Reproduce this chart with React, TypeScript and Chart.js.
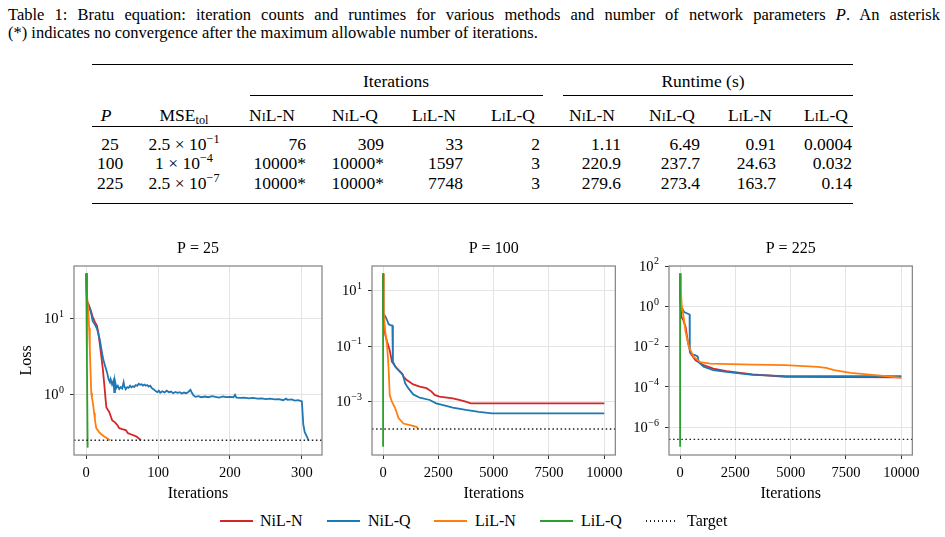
import React, { useEffect, useRef } from "react";
import { Chart, registerables } from "chart.js";

Chart.register(...registerables);

const SERIF = "'Liberation Serif', 'Times New Roman', Times, serif";

// ---------- table values ----------
const paramCounts = ["25", "100", "225"];
const mseTolMantissa = ["2.5", "1", "2.5"];
const mseTolExponent = ["\u22121", "\u22124", "\u22127"];
const iterationCounts = [
  ["76", "309", "33", "2"],
  ["10000*", "10000*", "1597", "3"],
  ["10000*", "10000*", "7748", "3"],
];
const runtimeSeconds = [
  ["1.11", "6.49", "0.91", "0.0004"],
  ["220.9", "237.7", "24.63", "0.032"],
  ["279.6", "273.4", "163.7", "0.14"],
];

// ---------- methods ----------
const methods = ["NiL-N", "NiL-Q", "LiL-N", "LiL-Q"];
const methodColors = ["#d62728", "#1f77b4", "#ff7f0e", "#2ca02c"];
const targetLoss = [0.25, 1e-4, 2.5e-7];

// ---------- loss histories: [iteration, loss] ----------
const lossNiLN25 = [
  [0, 39], [1, 17], [3, 15.5], [6, 13], [9, 10.5], [12, 9], [15, 8], [17, 6.3], [19, 4.5],
  [21, 3.2], [23, 2.2], [25, 1.4], [27, 0.85], [28, 0.68], [30, 0.63], [32, 0.59], [34, 0.52],
  [36, 0.46], [40, 0.43], [43, 0.4], [46, 0.36], [50, 0.35], [55, 0.34], [58, 0.31], [62, 0.3],
  [66, 0.29], [70, 0.28], [74, 0.26], [76, 0.25],
];
const lossNiLQ25 = [
  [0, 39], [1, 16.5], [3, 15], [5, 13.5], [7, 11.5], [9, 9.2], [11, 8.6], [13, 8.0], [15, 7.3],
  [17, 6.2], [19, 5.2], [21, 4.0], [23, 3.1], [25, 2.6], [27, 2.25], [29, 1.95], [31, 1.6],
  [33, 1.45], [34, 1.58], [36, 1.35], [38, 1.52], [39, 1.07], [40, 1.5], [42, 1.22], [44, 1.3],
  [46, 1.18], [48, 1.25], [50, 1.2], [52, 1.45], [53, 1.28], [55, 1.17], [57, 1.25], [59, 1.22],
  [61, 1.3], [63, 1.24], [65, 1.28], [67, 1.26], [69, 1.33], [71, 1.3], [73, 1.38], [75, 1.34],
  [77, 1.36], [79, 1.31], [81, 1.35], [83, 1.3], [85, 1.33], [87, 1.27], [89, 1.3], [91, 1.22],
  [93, 1.18], [95, 1.14], [97, 1.1], [99, 1.07], [101, 1.12], [103, 1.05], [106, 1.1],
  [109, 1.06], [112, 1.12], [115, 1.07], [118, 1.09], [121, 1.04], [124, 1.08], [127, 1.05],
  [130, 1.07], [133, 1.03], [136, 1.06], [139, 1.04], [142, 1.08], [145, 1.15], [147, 1.05],
  [149, 0.98], [152, 0.93], [156, 0.95], [160, 0.92], [165, 0.94], [170, 0.92], [175, 0.95],
  [180, 0.93], [185, 0.91], [190, 0.94], [195, 0.92], [200, 0.93], [205, 0.92], [207, 0.99],
  [209, 0.91], [214, 0.9], [220, 0.91], [226, 0.89], [232, 0.9], [238, 0.88], [244, 0.89],
  [250, 0.87], [256, 0.88], [262, 0.86], [268, 0.87], [274, 0.84], [278, 0.88], [280, 0.85],
  [286, 0.86], [290, 0.83], [295, 0.84], [300, 0.81], [302, 0.4], [304, 0.32], [307, 0.28],
  [309, 0.25],
];
const lossLiLN25 = [
  [0, 39], [1, 20], [2, 16], [3, 12], [4, 7.5], [5, 4], [6, 2], [7, 1.05], [8, 0.9], [9, 0.8],
  [10, 0.68], [11, 0.57], [12, 0.48], [13, 0.41], [14, 0.36], [16, 0.34], [18, 0.32], [21, 0.3],
  [25, 0.28], [29, 0.265], [33, 0.25],
];
const lossLiLQ25 = [[0, 39], [1, 2.5], [2, 0.2]];

const lossNiLN100 = [
  [0, 42], [10, 1.0], [60, 0.45], [100, 0.25], [180, 0.145], [300, 0.071], [400, 0.027],
  [620, 0.0158], [850, 0.0102], [920, 0.0079], [1070, 0.0059], [1365, 0.0041], [1660, 0.0034],
  [1960, 0.003], [2180, 0.0023], [2330, 0.0017], [2550, 0.00148], [3150, 0.00129],
  [3440, 0.00112], [3740, 0.00098], [3960, 0.00085], [10000, 0.00085],
];
const lossNiLQ100 = [
  [0, 42], [10, 3], [30, 1.3], [60, 1.32], [120, 1.1], [180, 0.87], [250, 0.62], [325, 0.57],
  [420, 0.55], [445, 0.027], [550, 0.0178], [770, 0.0117], [890, 0.0093], [1000, 0.0045],
  [1140, 0.003], [1365, 0.00178], [1660, 0.00135], [2110, 0.00112], [2400, 0.00085],
  [2850, 0.00068], [3150, 0.00059], [3740, 0.00049], [4330, 0.00042], [4930, 0.00037],
  [10000, 0.00037],
];
const lossLiLN100 = [
  [0, 42], [30, 1.5], [100, 0.33], [180, 0.11], [250, 0.016], [300, 0.0017], [400, 0.00098],
  [550, 0.00056], [700, 0.00025], [920, 0.000158], [1220, 0.000138], [1510, 0.00012],
  [1597, 0.0001],
];
const lossLiLQ100 = [[0, 42], [1, 0.3], [2, 0.002], [3, 2.3e-5]];

const lossNiLN225 = [
  [0, 42], [15, 1.5], [60, 0.3], [150, 0.2], [250, 0.095], [355, 0.017], [475, 0.0046],
  [700, 0.0021], [1065, 0.0012], [1500, 0.00081], [2100, 0.0006], [3280, 0.00042],
  [4760, 0.00032], [10000, 0.000295],
];
const lossNiLQ225 = [
  [0, 42], [15, 2], [60, 0.93], [180, 0.52], [330, 0.44], [430, 0.39], [440, 0.0055],
  [550, 0.0041], [700, 0.0037], [800, 0.0032], [840, 0.0017], [1065, 0.001], [1500, 0.00068],
  [2100, 0.00056], [3280, 0.0004], [4760, 0.00034], [10000, 0.00034],
];
const lossLiLN225 = [
  [0, 42], [30, 10], [75, 1.1], [150, 0.36], [250, 0.054], [400, 0.0098], [620, 0.0031],
  [917, 0.0017], [1360, 0.00145], [1800, 0.0014], [3280, 0.00129], [4760, 0.0012],
  [6230, 0.001], [6600, 0.00089], [6970, 0.00068], [7710, 0.0005], [8450, 0.00042],
  [9190, 0.00035], [10000, 0.00028],
];
const lossLiLQ225 = [[0, 42], [1, 0.5], [2, 1e-4], [3, 1.07e-7]];

// ---------- axis ticks ----------
const iterTicksSmall = [0, 100, 200, 300];
const iterTicksLarge = [0, 2500, 5000, 7500, 10000];
const lossTicks25 = [1, 10];
const lossTicks100 = [1e-3, 1e-1, 10];
const lossTicks225 = [1e-6, 1e-4, 1e-2, 1, 100];

type Pt = number[];
interface PanelSpec {
  title: string;
  series: Pt[][];
  target: number;
  xMin: number;
  xMax: number;
  xTicks: number[];
  yMin: number;
  yMax: number;
  yTicks: number[];
  showLossTitle: boolean;
  left: number;
  top: number;
  width: number;
  height: number;
  yAxisWidth: number;
  padRight: number;
}

const panels: PanelSpec[] = [
  {
    title: "P = 25", series: [lossNiLN25, lossNiLQ25, lossLiLN25, lossLiLQ25], target: targetLoss[0],
    xMin: -17, xMax: 328, xTicks: iterTicksSmall, yMin: 0.16, yMax: 48.8, yTicks: lossTicks25,
    showLossTitle: true, left: 10, top: 236, width: 318, height: 269, yAxisWidth: 64, padRight: 6,
  },
  {
    title: "P = 100", series: [lossNiLN100, lossNiLQ100, lossLiLN100, lossLiLQ100], target: targetLoss[1],
    xMin: -500, xMax: 10500, xTicks: iterTicksLarge, yMin: 1.15e-5, yMax: 78, yTicks: lossTicks100,
    showLossTitle: false, left: 329, top: 236, width: 299, height: 269, yAxisWidth: 43, padRight: 9,
  },
  {
    title: "P = 225", series: [lossNiLN225, lossNiLQ225, lossLiLN225, lossLiLQ225], target: targetLoss[2],
    xMin: -500, xMax: 10500, xTicks: iterTicksLarge, yMin: 4.2e-8, yMax: 100, yTicks: lossTicks225,
    showLossTitle: false, left: 627, top: 236, width: 298, height: 269, yAxisWidth: 42, padRight: 9,
  },
];

// Box around the plotting area, on every side.
const framePlugin = {
  id: "frame",
  afterDraw(chart: any) {
    const { ctx, chartArea: a } = chart;
    ctx.save();
    ctx.strokeStyle = "#8a8a8a";
    ctx.lineWidth = 1.3;
    ctx.strokeRect(a.left, a.top, a.right - a.left, a.bottom - a.top);
    ctx.restore();
  },
};

// Log-axis labels written as 10 with a raised exponent.
const powerLabelPlugin = {
  id: "powerLabels",
  afterDraw(chart: any) {
    const { ctx, chartArea } = chart;
    const scale = chart.scales.y;
    const rightEdge = chartArea.left - 10;
    ctx.save();
    ctx.fillStyle = "#000";
    ctx.textBaseline = "alphabetic";
    for (const t of scale.ticks) {
      const y = scale.getPixelForValue(t.value);
      const e = Math.round(Math.log10(t.value));
      const expText = e < 0 ? "\u2212" + String(-e) : String(e);
      ctx.font = `10px ${SERIF}`;
      const ew = ctx.measureText(expText).width;
      ctx.textAlign = "left";
      ctx.fillText(expText, rightEdge - ew, y - 1.6);
      ctx.font = `14.5px ${SERIF}`;
      ctx.textAlign = "right";
      ctx.fillText("10", rightEdge - ew - 0.5, y + 4.8);
    }
    ctx.restore();
  },
};

function LossPanel({ spec }: { spec: PanelSpec }) {
  const ref = useRef<HTMLCanvasElement | null>(null);
  useEffect(() => {
    const gridStyle = { color: "#e4e4e4", lineWidth: 1, tickColor: "#333", tickLength: 4, tickWidth: 1 };
    const datasets: any[] = spec.series.map((pts, i) => ({
      label: methods[i],
      data: pts.map(([x, y]) => ({ x, y })),
      borderColor: methodColors[i],
      backgroundColor: methodColors[i],
      borderWidth: 1.8,
      pointRadius: 0,
      tension: 0,
      fill: false,
      order: 5 - i,
    }));
    datasets.push({
      label: "Target",
      data: [{ x: spec.xMin, y: spec.target }, { x: spec.xMax, y: spec.target }],
      borderColor: "#222",
      borderWidth: 1.4,
      borderDash: [1.5, 2.6],
      pointRadius: 0,
      fill: false,
      order: 0,
    });
    const chart = new Chart(ref.current as HTMLCanvasElement, {
      type: "line",
      data: { datasets },
      options: {
        responsive: false,
        animation: false,
        devicePixelRatio: 1,
        layout: { padding: { left: 0, top: 0, bottom: 0, right: spec.padRight } },
        plugins: {
          legend: { display: false },
          tooltip: { enabled: false },
          title: {
            display: true,
            text: spec.title,
            fullSize: false,
            color: "#000",
            font: { family: SERIF, size: 16, weight: "normal", lineHeight: 1.2 },
            padding: { top: 3, bottom: 7.8 },
          },
        },
        scales: {
          x: {
            type: "linear",
            min: spec.xMin,
            max: spec.xMax,
            afterBuildTicks: (s: any) => {
              s.ticks = spec.xTicks.map((v) => ({ value: v }));
            },
            afterFit: (s: any) => {
              s.height = 50;
            },
            ticks: {
              callback: (v: any) => String(v),
              color: "#000",
              font: { family: SERIF, size: 14.5 },
              padding: 5,
              maxRotation: 0,
              autoSkip: false,
            },
            grid: gridStyle,
            border: { display: false },
            title: {
              display: true,
              text: "Iterations",
              color: "#000",
              font: { family: SERIF, size: 16, lineHeight: 1.2 },
              padding: { top: 0, bottom: 2 },
            },
          },
          y: {
            type: "logarithmic",
            min: spec.yMin,
            max: spec.yMax,
            afterBuildTicks: (s: any) => {
              s.ticks = spec.yTicks.map((v) => ({ value: v }));
            },
            afterFit: (s: any) => {
              s.width = spec.yAxisWidth;
            },
            ticks: { display: false },
            grid: gridStyle,
            border: { display: false },
            title: {
              display: spec.showLossTitle,
              text: "Loss",
              color: "#000",
              font: { family: SERIF, size: 16, lineHeight: 1.2 },
              padding: { top: 7.4, bottom: 0 },
            },
          },
        },
      } as any,
      plugins: [framePlugin, powerLabelPlugin],
    });
    return () => chart.destroy();
  }, [spec]);
  return (
    <canvas
      ref={ref}
      width={spec.width}
      height={spec.height}
      style={{ position: "absolute", left: spec.left, top: spec.top, width: spec.width, height: spec.height }}
    />
  );
}

function Txt({ x, y, align, size = 17.5, children, style }: any) {
  const tx = align === "center" ? "-50%" : align === "right" ? "-100%" : "0";
  return (
    <div
      style={{
        position: "absolute",
        left: x,
        top: y - 11,
        height: 22,
        lineHeight: "22px",
        fontSize: size,
        whiteSpace: "nowrap",
        transform: `translateX(${tx})`,
        ...style,
      }}
    >
      {children}
    </div>
  );
}

function Rule({ x1, x2, y, h }: { x1: number; x2: number; y: number; h: number }) {
  return <div style={{ position: "absolute", left: x1, top: y - h / 2, width: x2 - x1, height: h, background: "#000" }} />;
}

const SmallCaps = ({ children }: any) => <span style={{ fontVariant: "small-caps" }}>{children}</span>;
const Sup = ({ children }: any) => (
  <span style={{ fontSize: "0.7em", position: "relative", top: "-0.55em" }}>{children}</span>
);

function ResultsTable() {
  const headerX = [272, 355, 434, 513, 592, 672, 750, 826];
  const iterRight = [306, 384, 463, 540];
  const timeRight = [621, 700, 776, 852];
  const rowY = [143.5, 163, 182.5];
  return (
    <>
      <Rule x1={92} x2={853} y={64.5} h={1.6} />
      <Txt x={396} y={81} align="center">Iterations</Txt>
      <Txt x={703} y={81} align="center">Runtime (s)</Txt>
      <Rule x1={250} x2={543} y={95.5} h={0.9} />
      <Rule x1={563} x2={853} y={95.5} h={0.9} />
      <Txt x={106} y={114.5} align="center"><i>P</i></Txt>
      <Txt x={184} y={114.5} align="center">
        MSE<span style={{ fontSize: "0.7em", position: "relative", top: "0.3em" }}>tol</span>
      </Txt>
      {[...methods, ...methods].map((m, i) => (
        <Txt key={"h" + i} x={headerX[i]} y={114.5} align="center"><SmallCaps>{m}</SmallCaps></Txt>
      ))}
      <Rule x1={92} x2={853} y={126.5} h={0.9} />
      {paramCounts.map((p, r) => (
        <React.Fragment key={"r" + r}>
          <Txt x={110} y={rowY[r]} align="center">{p}</Txt>
          <Txt x={184} y={rowY[r]} align="center">
            {mseTolMantissa[r]} × 10<Sup>{mseTolExponent[r]}</Sup>
          </Txt>
          {iterationCounts[r].map((v, c) => (
            <Txt key={"i" + c} x={iterRight[c]} y={rowY[r]} align="right">{v}</Txt>
          ))}
          {runtimeSeconds[r].map((v, c) => (
            <Txt key={"t" + c} x={timeRight[c]} y={rowY[r]} align="right">{v}</Txt>
          ))}
        </React.Fragment>
      ))}
      <Rule x1={92} x2={853} y={203.5} h={1.6} />
    </>
  );
}

function Legend() {
  const lineX = [220, 327, 434, 540, 646];
  const textX = [260, 368, 475, 581, 687];
  const labels = [...methods, "Target"];
  const y = 521;
  return (
    <>
      {labels.map((lab, i) => (
        <React.Fragment key={lab}>
          {i < 4 ? (
            <div style={{ position: "absolute", left: lineX[i], top: y - 1, width: 33, height: 2, background: methodColors[i] }} />
          ) : (
            <div
              style={{
                position: "absolute",
                left: lineX[i],
                top: y - 0.75,
                width: 31,
                height: 1.5,
                background: "repeating-linear-gradient(to right, #222 0 1.5px, transparent 1.5px 4px)",
              }}
            />
          )}
          <Txt x={textX[i]} y={y} size={16}>{lab}</Txt>
        </React.Fragment>
      ))}
    </>
  );
}

export default function App() {
  return (
    <div
      style={{
        position: "absolute",
        left: 0,
        top: 0,
        width: 945,
        height: 537,
        background: "#fff",
        fontFamily: SERIF,
        color: "#000",
        overflow: "hidden",
      }}
    >
      <div
        style={{
          position: "absolute",
          left: 8,
          top: 5,
          width: 932,
          fontSize: 16.5,
          lineHeight: "19.5px",
          textAlign: "justify",
          textAlignLast: "justify" as any,
        }}
      >
        Table 1: Bratu equation: iteration counts and runtimes for various methods and number of network parameters <i>P</i>. An asterisk
      </div>
      <div style={{ position: "absolute", left: 8, top: 22.5, fontSize: 16.5, lineHeight: "19.5px", whiteSpace: "nowrap" }}>
        (*) indicates no convergence after the maximum allowable number of iterations.
      </div>
      <ResultsTable />
      {panels.map((p) => (
        <LossPanel key={p.title} spec={p} />
      ))}
      <Legend />
    </div>
  );
}
